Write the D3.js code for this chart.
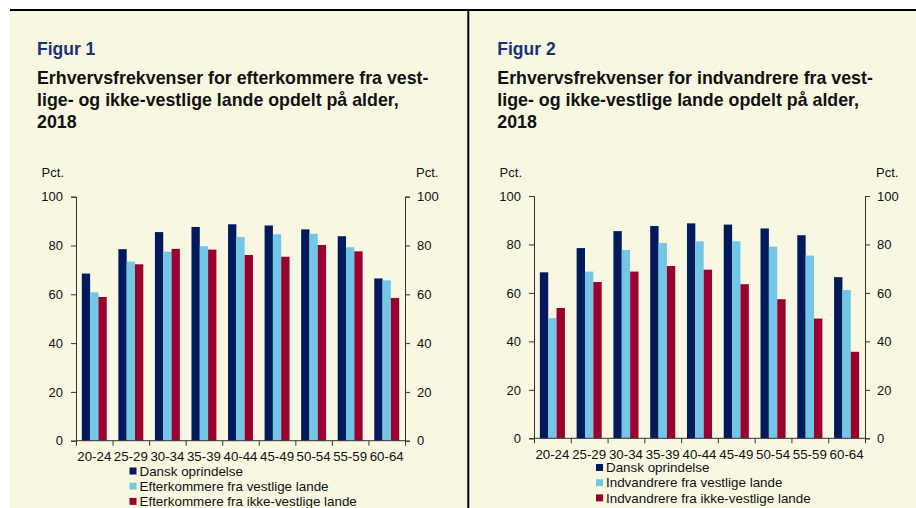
<!DOCTYPE html>
<html>
<head>
<meta charset="utf-8">
<script src="https://cdn.jsdelivr.net/npm/d3@7"></script>
<style>
  body { margin: 0; background: #ffffff; }
  svg { display: block; font-family: "Liberation Sans", Arial, sans-serif; }
</style>
</head>
<body>
<div id="container"></div>
<script>
const width = 916,
  height = 508;

/* DATA */
const ageGroups = ["20-24", "25-29", "30-34", "35-39", "40-44", "45-49", "50-54", "55-59", "60-64"];
const yTicks = [0, 20, 40, 60, 80, 100];

// Figur 1 - efterkommere
const fig1Dansk = [68.5, 78.5, 85.5, 87.6, 88.7, 88.2, 86.6, 83.8, 66.5];
const fig1Vest = [60.8, 73.4, 77.5, 79.7, 83.5, 84.6, 84.8, 79.3, 65.7];
const fig1IkkeVest = [58.9, 72.3, 78.6, 78.3, 76.1, 75.4, 80.2, 77.6, 58.5];
const fig1Legend = ["Dansk oprindelse", "Efterkommere fra vestlige lande", "Efterkommere fra ikke-vestlige lande"];
const fig1Title = ["Erhvervsfrekvenser for efterkommere fra vest-", "lige- og ikke-vestlige lande opdelt på alder,", "2018"];

// Figur 2 - indvandrere
const fig2Dansk = [68.5, 78.5, 85.5, 87.6, 88.7, 88.2, 86.6, 83.8, 66.5];
const fig2Vest = [49.6, 68.8, 77.7, 80.6, 81.3, 81.3, 79.1, 75.4, 61.2];
const fig2IkkeVest = [53.8, 64.5, 68.8, 71.1, 69.6, 63.6, 57.4, 49.4, 35.7];
const fig2Legend = ["Dansk oprindelse", "Indvandrere fra vestlige lande", "Indvandrere fra ikke-vestlige lande"];
const fig2Title = ["Erhvervsfrekvenser for indvandrere fra vest-", "lige- og ikke-vestlige lande opdelt på alder,", "2018"];

const seriesKeys = ["dansk", "vest", "ikkeVest"];
const colorScale = d3.scaleOrdinal()
  .domain(seriesKeys)
  .range(["#001a5c", "#73c7e6", "#990030"]);

/* SVG */
const svg = d3.select("#container")
  .append("svg")
  .attr("width", width)
  .attr("height", height);

// background panel
svg.append("rect")
  .attr("x", 10).attr("y", 10)
  .attr("width", width - 10).attr("height", height - 10)
  .attr("fill", "#f8f7e1");

// frame lines
svg.append("line")
  .attr("x1", 10).attr("x2", width)
  .attr("y1", 10).attr("y2", 10)
  .attr("stroke", "#000").attr("stroke-width", 2);
svg.append("line")
  .attr("x1", 468.3).attr("x2", 468.3)
  .attr("y1", 9).attr("y2", height)
  .attr("stroke", "#000").attr("stroke-width", 2);

function drawPanel(cfg) {
  const g = svg.append("g");

  // titles
  g.append("text")
    .attr("x", cfg.textX).attr("y", 55)
    .attr("fill", "#1b3274")
    .attr("font-size", "17.5px")
    .attr("font-weight", "bold")
    .text(cfg.figLabel);

  g.selectAll("text.title")
    .data(cfg.title)
    .join("text")
    .attr("class", "title")
    .attr("x", cfg.textX)
    .attr("y", (d, i) => 84 + i * 22)
    .attr("fill", "#111")
    .attr("font-size", "17.8px")
    .attr("font-weight", "bold")
    .text(d => d);

  /* SCALES */
  const xScale = d3.scaleBand()
    .domain(ageGroups)
    .range([cfg.left, cfg.right])
    .padding(0);

  const xSub = d3.scaleBand()
    .domain(seriesKeys)
    .range([0, xScale.bandwidth()])
    .paddingInner(0)
    .paddingOuter(0.7);

  const yScale = d3.scaleLinear()
    .domain([0, 100])
    .range([cfg.bottom, cfg.top]);

  // boundary ticks for the categories (Excel style)
  const xEdge = d3.scaleLinear()
    .domain([0, ageGroups.length])
    .range([cfg.left, cfg.right]);

  /* BARS */
  const rows = ageGroups.map((a, i) => ({
    age: a,
    dansk: cfg.dansk[i],
    vest: cfg.vest[i],
    ikkeVest: cfg.ikkeVest[i]
  }));

  g.append("g")
    .selectAll("g")
    .data(rows)
    .join("g")
    .attr("transform", d => `translate(${xScale(d.age)},0)`)
    .selectAll("rect")
    .data(d => seriesKeys.map(k => ({ key: k, value: d[k] })))
    .join("rect")
    .attr("x", d => xSub(d.key))
    .attr("width", xSub.bandwidth())
    .attr("y", d => yScale(d.value))
    .attr("height", d => yScale(0) - yScale(d.value))
    .attr("fill", d => colorScale(d.key));

  /* AXES */
  const leftAxis = d3.axisLeft(yScale).tickValues(yTicks).tickSize(5).tickPadding(8);
  const rightAxis = d3.axisRight(yScale).tickValues(yTicks).tickSize(5).tickPadding(7);
  const bottomAxis = d3.axisBottom(xEdge).tickValues(d3.range(ageGroups.length + 1)).tickSize(5).tickFormat("");

  const styleAxis = sel => {
    sel.selectAll("path, line").attr("stroke", "#333");
    sel.selectAll("text").attr("fill", "#111").attr("font-size", "13px")
      .attr("font-family", "'Liberation Sans', Arial, sans-serif");
  };

  g.append("g")
    .attr("transform", `translate(${cfg.left},0)`)
    .call(leftAxis)
    .call(styleAxis);

  g.append("g")
    .attr("transform", `translate(${cfg.right},0)`)
    .call(rightAxis)
    .call(styleAxis);

  g.append("g")
    .attr("transform", `translate(0,${cfg.bottom})`)
    .call(bottomAxis)
    .call(styleAxis)
    .selectAll(".domain").attr("d", `M${cfg.left},0H${cfg.right}`);

  // category labels
  g.selectAll("text.age")
    .data(ageGroups)
    .join("text")
    .attr("class", "age")
    .attr("x", d => xScale(d) + xScale.bandwidth() / 2)
    .attr("y", cfg.bottom + 20.5)
    .attr("text-anchor", "middle")
    .attr("fill", "#111")
    .attr("font-size", "13.3px")
    .text(d => d);

  // Pct. labels
  g.append("text")
    .attr("x", cfg.left - 12).attr("y", 177)
    .attr("text-anchor", "end")
    .attr("fill", "#111").attr("font-size", "13px")
    .text("Pct.");
  g.append("text")
    .attr("x", cfg.right + 11).attr("y", 177)
    .attr("fill", "#111").attr("font-size", "13px")
    .text("Pct.");

  /* LEGEND */
  const legend = g.selectAll("g.legend")
    .data(cfg.legend)
    .join("g")
    .attr("class", "legend")
    .attr("transform", (d, i) => `translate(${cfg.legendX},${cfg.legendY + i * 15.2})`);

  legend.append("rect")
    .attr("x", 0).attr("y", -3.5)
    .attr("width", 7).attr("height", 7)
    .attr("fill", (d, i) => colorScale(seriesKeys[i]));

  legend.append("text")
    .attr("x", 10).attr("y", 4.6)
    .attr("fill", "#111").attr("font-size", "13.4px")
    .text(d => d);
}

drawPanel({
  figLabel: "Figur 1", title: fig1Title, legend: fig1Legend,
  dansk: fig1Dansk, vest: fig1Vest, ikkeVest: fig1IkkeVest,
  textX: 37, left: 76, right: 405, top: 196.7, bottom: 440.7,
  legendX: 129.5, legendY: 471
});

drawPanel({
  figLabel: "Figur 2", title: fig2Title, legend: fig2Legend,
  dansk: fig2Dansk, vest: fig2Vest, ikkeVest: fig2IkkeVest,
  textX: 497.3, left: 534, right: 865, top: 196, bottom: 438.3,
  legendX: 596, legendY: 467.5
});
</script>
</body>
</html>
